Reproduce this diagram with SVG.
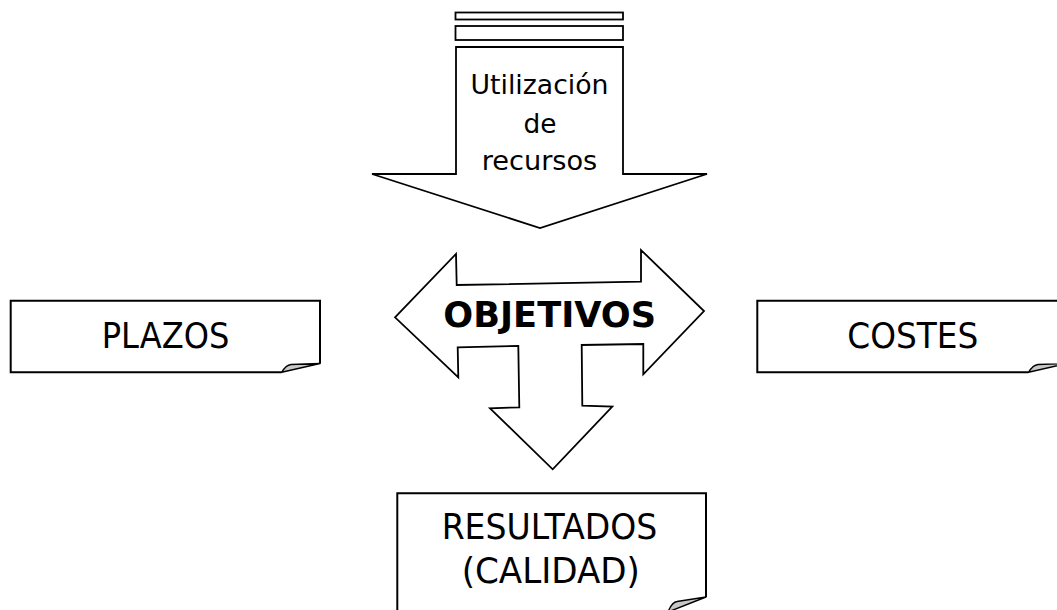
<svg xmlns="http://www.w3.org/2000/svg" width="1057" height="610" viewBox="0 0 1057 610">
<style>
.shape{fill:#fff;stroke:#000;stroke-width:2;stroke-linejoin:miter}
.arrow{fill:#fff;stroke:#000;stroke-width:1.8;stroke-linejoin:miter}
.fold{fill:#c8c8c8;stroke:#000;stroke-width:1.4;stroke-linejoin:round}
.t{font-family:"DejaVu Sans","Liberation Sans",sans-serif;fill:#000;text-anchor:middle}
.big{font-size:35px}
.small{font-size:26px}
.bold{font-weight:bold;font-size:35px}
</style>
<rect width="1057" height="610" fill="#fff"/>
<g id="recursos">
<rect class="arrow" x="455.5" y="12.5" width="167.5" height="7"/>
<rect class="arrow" x="455.5" y="26" width="167.5" height="14"/>
<path class="arrow" d="M456,47 L623,47 L623,174 L707,174 L540,228 L372,174 L456,174 Z"/>
<text class="t small" x="539.5" y="94" textLength="138" lengthAdjust="spacingAndGlyphs">Utilización</text>
<text class="t small" x="540" y="133" textLength="33" lengthAdjust="spacingAndGlyphs">de</text>
<text class="t small" x="539.5" y="169.5" textLength="115.6" lengthAdjust="spacingAndGlyphs">recursos</text>
</g>
<g id="objetivos">
<polygon class="arrow" points="395,317.3 456,254 456.7,285 641,281.7 641,250 704,311 643.3,374.3 643.3,344 581.7,345 582.3,405.7 612.3,406.7 552.7,469.3 490,408.3 519.3,407.3 518.3,346 457.7,347.3 458.3,377.3"/>
<text class="t bold" x="549.7" y="327.3" textLength="212.7" lengthAdjust="spacingAndGlyphs">OBJETIVOS</text>
</g>
<g id="plazos">
<path class="shape" d="M281.7,372.3 L10.7,372.3 L10.7,300.7 L320,300.7 L320,363.5"/>
<path class="fold" d="M281.7,372.3 Q286,365 291,364.5 L320,363.5 Z"/>
<text class="t big" x="165.5" y="348.3" textLength="127.6" lengthAdjust="spacingAndGlyphs">PLAZOS</text>
</g>
<g id="costes">
<path class="shape" d="M1028.5,372.3 L757.3,372.3 L757.3,300.7 L1060,300.7"/>
<path class="fold" d="M1028.5,372.3 Q1033,365 1038,364.5 L1067,363.5 Z"/>
<text class="t big" x="912.8" y="348.3" textLength="131" lengthAdjust="spacingAndGlyphs">COSTES</text>
</g>
<g id="resultados">
<path class="shape" d="M668,612 L397.3,612 L397.3,493.3 L706,493.3 L706,597"/>
<path class="fold" d="M668,612 Q672,602 677,601.5 L706,597 Z"/>
<text class="t big" x="549.5" y="539.3" textLength="215.7" lengthAdjust="spacingAndGlyphs">RESULTADOS</text>
<text class="t big" x="550.8" y="583" textLength="178.3" lengthAdjust="spacingAndGlyphs">(CALIDAD)</text>
</g>
<g id="connectors"></g>
</svg>
